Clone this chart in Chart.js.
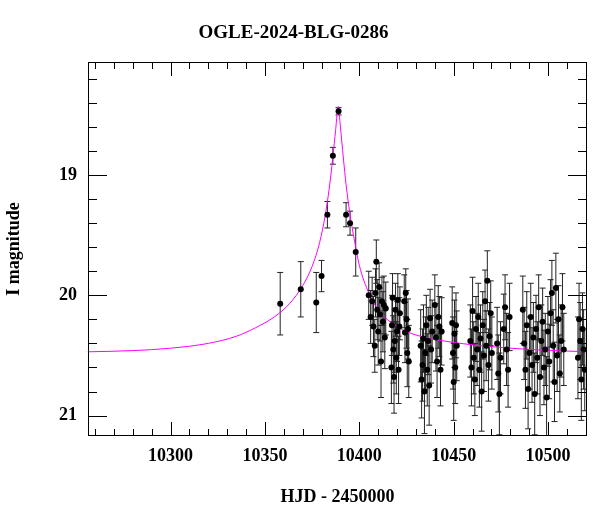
<!DOCTYPE html>
<html><head><meta charset="utf-8">
<script src="https://cdn.jsdelivr.net/npm/chart.js@4"></script>
<style>html,body{margin:0;padding:0;background:#fff}#w{width:600px;height:512px}</style>
</head><body><div id="w"><canvas id="c"></canvas></div>
<script>
const hjd = [10358.1,10369.0,10377.2,10380.0,10383.1,10386.0,10389.0,10393.0,10395.1,10398.1,10405.0,
10406.0,10406.8,10407.5,10408.2,10408.6,10409.0,10409.5,10410.0,10410.5,10411.0,10411.5,10412.0,10412.5,10413.0,10413.5,10414.0,
10417.0,10417.3,10417.6,10418.0,10418.4,10418.8,10419.2,10419.6,10420.0,10420.4,10420.8,10421.2,10421.5,
10423.8,10424.2,10424.6,10425.0,10425.4,10425.8,10426.2,
10432.5,10433.0,10433.5,10434.0,10434.5,10435.0,10435.5,10436.0,10436.5,10437.0,10437.5,10438.0,10438.6,
10440.0,10440.6,10441.2,10441.8,10442.4,10443.0,10443.6,
10449.2,10449.6,10450.0,10450.4,10450.8,10451.2,10451.6,
10458.8,10459.4,10460.0,10460.6,10461.2,10461.8,10462.4,10463.0,10463.6,10464.2,10464.8,10465.4,10466.0,10466.6,10467.2,10467.8,10468.4,10469.0,10469.6,10470.2,
10473.0,10473.6,10474.2,10474.8,10476.5,10477.2,10478.0,10478.8,10479.6,
10486.6,10487.3,10488.0,10488.7,10489.4,10490.1,10490.8,10491.5,10492.2,10492.9,10493.6,10494.3,10495.0,10495.7,10496.4,10497.1,10497.8,10498.5,10499.2,10499.9,10500.6,10501.3,10502.0,10502.7,10503.4,10504.1,10504.8,10505.5,10506.2,10506.9,10507.6,10508.3,
10515.8,10516.4,10517.0,10517.6,10518.2,10518.8,10519.4];
const mag = [20.07,19.95,20.06,19.84,19.33,18.84,18.47,19.33,19.40,19.64,20.00,
20.18,20.05,20.26,20.42,19.98,19.72,20.12,20.30,19.93,20.16,20.55,20.05,20.22,20.08,20.35,20.11,
20.60,20.25,20.02,20.45,20.68,20.38,20.12,20.52,20.30,20.04,20.62,20.26,20.15,
20.05,20.31,19.98,20.20,20.48,20.28,20.55,
20.42,20.70,20.58,20.36,20.80,20.48,20.25,20.62,20.38,20.75,20.19,20.45,20.30,
20.08,20.35,20.55,20.18,20.26,20.62,20.30,
20.23,20.48,20.72,20.32,20.60,20.25,20.42,
20.38,20.60,20.13,20.52,20.70,20.28,20.45,20.18,20.62,20.36,20.80,20.25,20.50,20.05,20.42,19.88,20.58,20.34,20.15,20.48,
20.40,20.65,20.82,20.52,20.28,20.10,20.45,20.62,20.18,
20.12,20.40,20.62,20.25,20.78,20.48,20.18,20.58,20.35,20.82,20.28,20.52,20.10,20.68,20.38,20.22,20.60,20.45,20.85,20.30,20.55,20.15,19.98,20.42,20.72,19.94,20.50,20.20,20.65,20.38,20.10,20.45,
20.52,20.20,20.38,20.70,20.28,20.45,20.62];
const err = [0.26,0.23,0.25,0.13,0.11,0.07,0.03,0.10,0.10,0.20,0.20,
0.22,0.20,0.25,0.22,0.20,0.18,0.25,0.28,0.20,0.22,0.30,0.20,0.25,0.24,0.26,0.22,
0.30,0.25,0.20,0.28,0.30,0.26,0.22,0.30,0.25,0.22,0.28,0.24,0.22,
0.22,0.25,0.20,0.24,0.28,0.25,0.30,
0.30,0.32,0.30,0.28,0.35,0.30,0.25,0.30,0.28,0.33,0.24,0.28,0.26,
0.25,0.28,0.30,0.26,0.25,0.30,0.28,
0.30,0.30,0.32,0.28,0.30,0.27,0.29,
0.30,0.32,0.28,0.30,0.30,0.27,0.30,0.28,0.31,0.28,0.33,0.28,0.30,0.26,0.29,0.25,0.30,0.28,0.27,0.30,
0.30,0.32,0.34,0.30,0.29,0.27,0.30,0.31,0.28,
0.28,0.30,0.32,0.28,0.33,0.30,0.28,0.31,0.29,0.34,0.28,0.30,0.27,0.32,0.30,0.28,0.31,0.30,0.34,0.29,0.31,0.28,0.27,0.30,0.33,0.29,0.30,0.28,0.32,0.30,0.28,0.30,
0.34,0.30,0.32,0.34,0.30,0.33,0.34];
const modelT = [10256,10280,10300,10320,10335,10345,10355,10363,10370,10375,10379,10382,10384,10386,10387.5,10388.8,10390,10391.5,10393,10395,10397.5,10400,10405,10410,10420,10430,10445,10465,10490,10521];
const modelM = [20.47,20.46,20.44,20.40,20.34,20.27,20.18,20.07,19.92,19.76,19.56,19.33,19.12,18.85,18.62,18.43,18.60,18.85,19.08,19.32,19.55,19.75,19.98,20.12,20.26,20.33,20.38,20.42,20.45,20.47];
const xTicks = [10300,10350,10400,10450,10500];
const yTicks = [19,20,21];

const FONT = "'Liberation Serif','DejaVu Serif',serif";
const pts = hjd.map((t,i)=>({x:t,y:mag[i]}));
const model = modelT.map((t,i)=>({x:t,y:modelM[i]}));

const decor = {
  id:'decor',
  beforeDatasetsDraw(ch){
    const {ctx,chartArea:a,scales:{x,y}} = ch;
    ctx.save();
    ctx.beginPath(); ctx.rect(a.left,a.top,a.right-a.left,a.bottom-a.top); ctx.clip();
    ctx.strokeStyle='#222'; ctx.lineWidth=1;
    pts.forEach((p,i)=>{
      const px=x.getPixelForValue(p.x), y1=y.getPixelForValue(p.y-err[i]), y2=y.getPixelForValue(p.y+err[i]);
      ctx.beginPath();
      ctx.moveTo(px,y1);ctx.lineTo(px,y2);
      ctx.moveTo(px-3,y1);ctx.lineTo(px+3,y1);
      ctx.moveTo(px-3,y2);ctx.lineTo(px+3,y2);
      ctx.stroke();
    });
    ctx.restore();
  },
  afterDraw(ch){
    const {ctx,chartArea:a,scales:{x,y}} = ch;
    ctx.save(); ctx.strokeStyle='#000'; ctx.lineWidth=1;
    ctx.strokeRect(a.left+0.5,a.top+0.5,a.right-a.left-1,a.bottom-a.top-1);
    ctx.beginPath();
    for(let v=10260; v<=10520; v+=10){
      const px=Math.round(x.getPixelForValue(v))+0.5; const L = v%50===0?14:7;
      ctx.moveTo(px,a.bottom);ctx.lineTo(px,a.bottom-L);
      ctx.moveTo(px,a.top);ctx.lineTo(px,a.top+L);
    }
    for(let k=91;k<=105;k++){
      const v=k/5; if(v<18.06||v>21.17) continue;
      const py=Math.round(y.getPixelForValue(v))+0.5; const L = k%5===0?19:9;
      ctx.moveTo(a.left,py);ctx.lineTo(a.left+L,py);
      ctx.moveTo(a.right,py);ctx.lineTo(a.right-L,py);
    }
    ctx.stroke(); ctx.restore();
  }
};

new Chart(document.getElementById('c'),{
  type:'scatter',
  data:{datasets:[
    {data:model,type:'line',showLine:true,borderColor:'#ff00ff',borderWidth:1,pointRadius:0,cubicInterpolationMode:'monotone',order:2},
    {data:pts,pointRadius:3,pointBackgroundColor:'#000',pointBorderColor:'#000',borderWidth:0,order:1}
  ]},
  options:{
    responsive:true,maintainAspectRatio:false,animation:false,
    layout:{padding:{left:0,right:13,top:0,bottom:0}},
    plugins:{legend:{display:false},tooltip:{enabled:false},
      title:{display:true,text:'OGLE-2024-BLG-0286',color:'#000',font:{family:FONT,size:19,weight:'bold',lineHeight:1.2},padding:{top:22,bottom:17.2}}},
    scales:{
      x:{type:'linear',min:10256.3,max:10520.6,
        afterBuildTicks(s){s.ticks=xTicks.map(v=>({value:v}));},
        afterFit(s){s.height=76;},
        grid:{display:false,drawTicks:false},border:{display:false},
        ticks:{color:'#000',font:{family:FONT,size:18,weight:'bold'},padding:10,maxRotation:0,callback:v=>String(v)},
        title:{display:true,text:'HJD - 2450000',color:'#000',font:{family:FONT,size:18,weight:'bold'},padding:{top:4}}},
      y:{type:'linear',reverse:true,min:18.06,max:21.17,
        afterBuildTicks(s){s.ticks=yTicks.map(v=>({value:v}));},
        afterFit(s){s.width=88;},
        grid:{display:false,drawTicks:false},border:{display:false},
        ticks:{color:'#000',font:{family:FONT,size:18,weight:'bold'},padding:11},
        title:{display:true,text:'I magnitude',color:'#000',font:{family:FONT,size:18,weight:'bold'},padding:{top:4,bottom:6}}}
    }
  },
  plugins:[decor]
});
</script></body></html>
